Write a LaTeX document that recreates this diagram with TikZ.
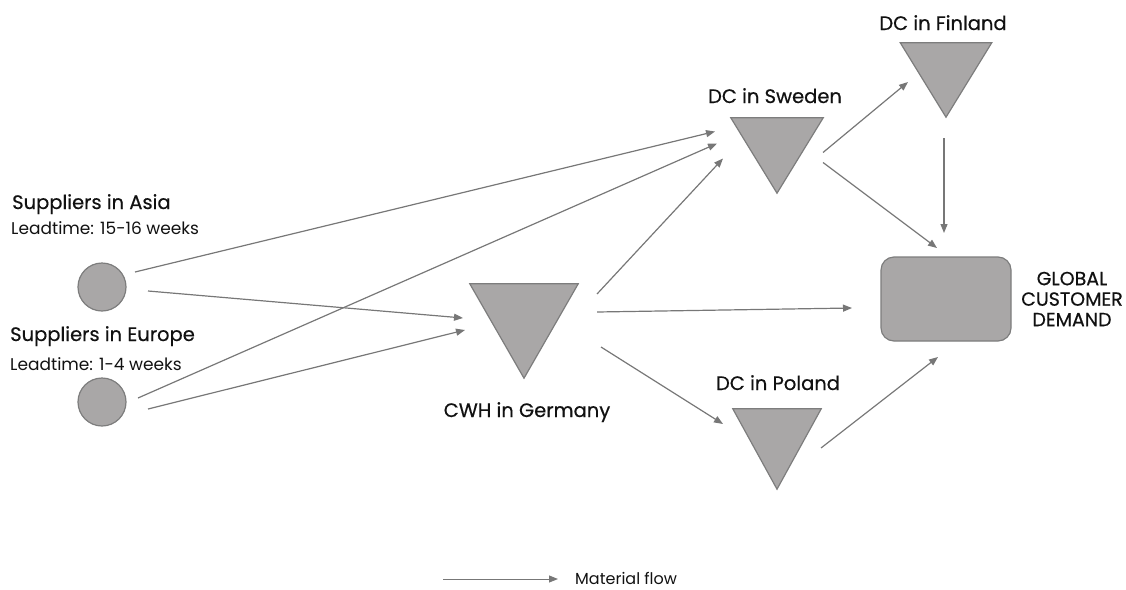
\documentclass[tikz,border=0pt]{standalone}
\usepackage{fontspec}
\setmainfont{Poppins}
\newfontfamily\medfont{Poppins}[FakeBold=0.5]
\usetikzlibrary{arrows.meta}

\definecolor{shapefill}{HTML}{A9A7A7}
\definecolor{shapeline}{HTML}{7D7D7D}
\definecolor{flowgray}{HTML}{777777}
\definecolor{textdark}{HTML}{111111}

\tikzset{
  supplier/.style={circle, minimum size=48pt, inner sep=0pt,
    fill=shapefill, draw=shapeline, line width=1.2pt},
  hub/.style={rectangle, inner sep=0pt, draw=none},
  hubshape/.style={fill=shapefill, draw=shapeline, line width=1.2pt, line join=miter},
  market/.style={rectangle, rounded corners=13pt, minimum width=130pt,
    minimum height=84pt, inner sep=0pt, fill=shapefill, draw=shapeline, line width=1.2pt},
  flow/.style={draw=flowgray, line width=1.2pt, -{Triangle[length=9pt,width=7pt]}},
  title/.style={font=\medfont\fontsize{19.5}{21}\selectfont, text=textdark, inner sep=0pt},
  note/.style={font=\fontsize{17}{18}\selectfont, text=textdark, inner sep=0pt, anchor=base west},
}

\begin{document}
\begin{tikzpicture}[x=1pt, y=-1pt]
  \useasboundingbox (0,0) rectangle (1126,589);

  % suppliers
  \node[supplier] (asia) at (102,287) {};
  \node[supplier] (europe) at (102,402) {};

  % warehouses and distribution centres (bounding boxes of the triangles)
  \node[hub, minimum width=108pt, minimum height=94pt] (cwh) at (524,331) {};
  \node[hub, minimum width=92pt, minimum height=75pt] (swe) at (777,155.5) {};
  \node[hub, minimum width=91pt, minimum height=74pt] (fin) at (946,80) {};
  \node[hub, minimum width=88pt, minimum height=80pt] (pol) at (777,449) {};
  \foreach \n in {cwh,swe,fin,pol}
    \draw[hubshape] (\n.north west) -- (\n.north east) -- (\n.south) -- cycle;

  % customer demand
  \node[market] (cust) at (946,299) {};

  % labels
  \node[title, anchor=base west] (asialbl) at (12,209) {Suppliers in Asia};
  \node[note] (asialt) at (11,234) {Leadtime: 15-16 weeks};
  \node[title, anchor=base west] (eulbl) at (10,341) {Suppliers in Europe};
  \node[note] (eult) at (10,370) {Leadtime: 1-4 weeks};
  \node[title, anchor=base] (cwhlbl) at (527,417) {CWH in Germany};
  \node[title, anchor=base] (swelbl) at (775,103) {DC in Sweden};
  \node[title, anchor=base] (finlbl) at (943,30) {DC in Finland};
  \node[title, anchor=base] (pollbl) at (778,390) {DC in Poland};
  \node[title, align=center, font=\medfont\fontsize{19}{20.5}\selectfont] (custlbl) at (1072,299)
    {GLOBAL\\CUSTOMER\\DEMAND};

  % material flows
  \draw[flow] ([shift={(33,-15)}]asia.center) -- ([shift={(-62,-24)}]swe.center);
  \draw[flow] ([shift={(46,4)}]asia.center) -- ([shift={(-61,-13)}]cwh.center);
  \draw[flow] ([shift={(36,-4)}]europe.center) -- ([shift={(-60,-12)}]swe.center);
  \draw[flow] ([shift={(46,7)}]europe.center) -- ([shift={(-59,-1)}]cwh.center);
  \draw[flow] ([shift={(73,-37)}]cwh.center) -- ([shift={(-54,3)}]swe.center);
  \draw[flow] ([shift={(73,-19)}]cwh.center) -- ([shift={(-94,9)}]cust.center);
  \draw[flow] ([shift={(77,16)}]cwh.center) -- ([shift={(-54,-25)}]pol.center);
  \draw[flow] ([shift={(46,-3)}]swe.center) -- ([shift={(-38,2)}]fin.center);
  \draw[flow] ([shift={(46,7)}]swe.center) -- ([shift={(-9,-51)}]cust.center);
  \draw[flow] ([shift={(-2,58)}]fin.center) -- ([shift={(-2,-66)}]cust.center);
  \draw[flow] ([shift={(44,-1)}]pol.center) -- ([shift={(-8,58)}]cust.center);

  % legend
  \coordinate (legstart) at (443,579);
  \coordinate (legend) at (558,579);
  \draw[flow, line width=1pt] (legstart) -- (legend);
  \node[note, font=\fontsize{16}{18}\selectfont] (leglbl) at (575,584) {Material flow};
\end{tikzpicture}
\end{document}
